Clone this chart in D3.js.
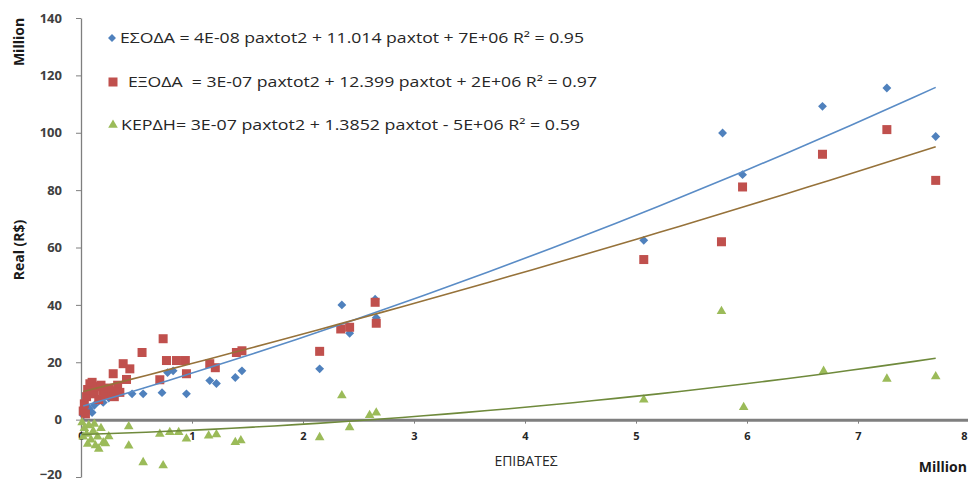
<!DOCTYPE html>
<html>
<head>
<meta charset="utf-8">
<script src="https://cdn.jsdelivr.net/npm/d3@7"></script>
<style>
  body { margin: 0; background: #fff; }
  text { font-family: "Open Sans", "Noto Sans", sans-serif; }
</style>
</head>
<body>
<div id="chart"></div>
<script>
// passengers (million) vs value (million R$)
const esoda = [
  [0.02, 1.5], [0.04, 3], [0.07, 4], [0.1, 2.5], [0.12, 5], [0.16, 6.5], [0.2, 6], [0.25, 7.5],
  [0.3, 9], [0.35, 9.5], [0.46, 9], [0.56, 9], [0.73, 9.4], [0.78, 16.4], [0.83, 17], [0.95, 9],
  [1.16, 13.6], [1.22, 12.6], [1.39, 14.7], [1.45, 17], [2.15, 17.7], [2.35, 40], [2.42, 30.1],
  [2.65, 42], [2.66, 35.5], [5.07, 62.5], [5.78, 99.9], [5.96, 85.4], [6.68, 109.2], [7.26, 115.6], [7.7, 98.7]
];
const eksoda = [
  [0.02, 3], [0.03, 5.5], [0.05, 8], [0.06, 10.5], [0.08, 12.5], [0.1, 13], [0.12, 9], [0.14, 11.5],
  [0.16, 7], [0.18, 12], [0.2, 10], [0.22, 8.5], [0.25, 11], [0.28, 10], [0.3, 8], [0.33, 12],
  [0.35, 9.5], [0.04, 2], [0.29, 16], [0.38, 19.5], [0.41, 14], [0.44, 17.7], [0.55, 23.4],
  [0.71, 13.9], [0.74, 28.2], [0.77, 20.6], [0.86, 20.6], [0.94, 20.6], [0.95, 16], [1.16, 19.5],
  [1.21, 18.1], [1.4, 23.4], [1.45, 24], [2.15, 23.8], [2.34, 31.6], [2.42, 32.2], [2.65, 40.9],
  [2.66, 33.6], [5.07, 55.8], [5.77, 62], [5.96, 81.1], [6.68, 92.5], [7.26, 101.1], [7.7, 83.4]
];
const kerdh = [
  [0.01, -1], [0.02, -6], [0.03, -3], [0.05, -5], [0.06, -8.5], [0.07, -2], [0.09, -7], [0.11, -4],
  [0.12, -1.5], [0.13, -9], [0.15, -6], [0.16, -10.2], [0.18, -3], [0.2, -8], [0.22, -8.3],
  [0.25, -5.9], [0.43, -2.4], [0.43, -9.1], [0.56, -14.9], [0.71, -5], [0.74, -16], [0.8, -4.4],
  [0.88, -4.4], [0.95, -6.7], [1.15, -5.6], [1.22, -5.2], [1.39, -7.9], [1.44, -7.3], [2.15, -6.2],
  [2.35, 8.4], [2.42, -2.7], [2.6, 1.5], [2.66, 2.4], [5.07, 6.9], [5.77, 37.8], [5.97, 4.3],
  [6.69, 16.9], [7.26, 14.2], [7.7, 15]
];

// polynomial (order 2) trendlines: [a, b, c] -> a*x^2 + b*x + c
const trendEsoda = [0.41, 11.3, 4.5];
const trendEksoda = [0.17, 9.8, 9.6];
const trendKerdh = [0.29, 1.22, -5.2];

const legendLabels = [
  "ΕΣΟΔΑ = 4E-08 paxtot2 + 11.014 paxtot + 7E+06 R² = 0.95",
  "ΕΞΟΔΑ  = 3E-07 paxtot2 + 12.399 paxtot + 2E+06 R² = 0.97",
  "ΚΕΡΔΗ= 3E-07 paxtot2 + 1.3852 paxtot - 5E+06 R² = 0.59"
];
const xTicks = [0, 1, 2, 3, 4, 5, 6, 7, 8];
const yTicks = [-20, 0, 20, 40, 60, 80, 100, 120, 140];

const width = 968;
const height = 483;

const svg = d3.select("#chart")
  .append("svg")
  .attr("width", width)
  .attr("height", height);

const x = d3.scaleLinear().domain([0, 8]).range([81, 969]);
const y = d3.scaleLinear().domain([-20, 140]).range([477, 18]);

// Y axis
const yAxis = svg.append("g")
  .attr("transform", `translate(${x(0)},0)`)
  .call(d3.axisLeft(y).tickValues(yTicks).tickSize(5).tickPadding(14).tickSizeOuter(0));
yAxis.select(".domain").attr("stroke", "#7f7f7f").attr("stroke-width", 1.3);
yAxis.selectAll(".tick line").attr("stroke", "#7f7f7f");
yAxis.selectAll("text")
  .attr("font-size", "13px")
  .attr("font-weight", "bold")
  .attr("fill", "#404040")
  .attr("dy", d => d === -20 ? "0.1em" : "0.32em");

// X axis at y = 0
const xAxis = svg.append("g")
  .attr("transform", `translate(0,${y(0)})`)
  .call(d3.axisBottom(x).tickValues(xTicks).tickSize(4).tickPadding(9).tickSizeOuter(0));
xAxis.select(".domain").attr("stroke", "#7f7f7f").attr("stroke-width", 3);
xAxis.selectAll(".tick line").attr("stroke", "#7f7f7f");
xAxis.selectAll("text")
  .attr("font-size", "11px")
  .attr("font-weight", "bold")
  .attr("fill", "#262626")
  .attr("text-anchor", d => d === 8 ? "end" : "middle")
  .attr("dx", d => d === 8 ? "-2" : "0");

// markers
const blue = "#4f81bd", red = "#c0504d", green = "#9bbb59";

svg.append("g").selectAll("path")
  .data(esoda)
  .enter()
  .append("path")
  .attr("d", d3.symbol(d3.symbolDiamond2, 50))
  .attr("transform", d => `translate(${x(d[0])},${y(d[1])})`)
  .attr("fill", blue);

svg.append("g").selectAll("rect")
  .data(eksoda)
  .enter()
  .append("rect")
  .attr("x", d => x(d[0]) - 4.5)
  .attr("y", d => y(d[1]) - 4.5)
  .attr("width", 9)
  .attr("height", 9)
  .attr("fill", red);

svg.append("g").selectAll("path")
  .data(kerdh)
  .enter()
  .append("path")
  .attr("d", d3.symbol(d3.symbolTriangle, 40))
  .attr("transform", d => `translate(${x(d[0])},${y(d[1])})`)
  .attr("fill", green);

// trendlines
function trendPoints(coef, x0, x1) {
  return d3.range(0, 41).map(i => {
    const xv = x0 + (x1 - x0) * i / 40;
    return [xv, coef[0] * xv * xv + coef[1] * xv + coef[2]];
  });
}
const line = d3.line().x(d => x(d[0])).y(d => y(d[1]));

const trends = [
  { coef: trendEsoda, data: esoda, color: "#5a8cc6" },
  { coef: trendEksoda, data: eksoda, color: "#96723a" },
  { coef: trendKerdh, data: kerdh, color: "#6f8a3c" }
];
trends.forEach(t => {
  const [x0, x1] = d3.extent(t.data, d => d[0]);
  svg.append("path")
    .attr("d", line(trendPoints(t.coef, x0, x1)))
    .attr("fill", "none")
    .attr("stroke", t.color)
    .attr("stroke-width", 1.6);
});

// legend
const legend = svg.append("g");
const legendY = [38, 82, 125];
const legendX = [120, 128, 121];
const legendW = [464, 469, 459];

legend.append("path")
  .attr("d", d3.symbol(d3.symbolDiamond2, 40))
  .attr("transform", `translate(112,${legendY[0]})`)
  .attr("fill", blue);
legend.append("rect")
  .attr("x", 108.5).attr("y", legendY[1] - 4.5)
  .attr("width", 9).attr("height", 9)
  .attr("fill", red);
legend.append("path")
  .attr("d", d3.symbol(d3.symbolTriangle, 40))
  .attr("transform", `translate(113,${legendY[2]})`)
  .attr("fill", green);

legendLabels.forEach((label, i) => {
  legend.append("text")
    .attr("x", legendX[i])
    .attr("y", legendY[i] + 5)
    .attr("font-size", "14px")
    .attr("fill", "#262626")
    .attr("textLength", legendW[i])
    .attr("lengthAdjust", "spacingAndGlyphs")
    .attr("xml:space", "preserve")
    .style("white-space", "pre")
    .text(label);
});

// axis titles
svg.append("text")
  .attr("x", 526)
  .attr("y", 466)
  .attr("text-anchor", "middle")
  .attr("font-size", "14px")
  .attr("fill", "#262626")
  .text("ΕΠΙΒΑΤΕΣ");

svg.append("text")
  .attr("x", 967)
  .attr("y", 472)
  .attr("text-anchor", "end")
  .attr("font-size", "14px")
  .attr("font-weight", "bold")
  .attr("fill", "#1a1a1a")
  .text("Million");

svg.append("text")
  .attr("transform", "translate(24,250) rotate(-90)")
  .attr("text-anchor", "middle")
  .attr("font-size", "14px")
  .attr("font-weight", "bold")
  .attr("fill", "#1a1a1a")
  .text("Real (R$)");

svg.append("text")
  .attr("transform", "translate(24,42) rotate(-90)")
  .attr("text-anchor", "middle")
  .attr("font-size", "14px")
  .attr("font-weight", "bold")
  .attr("fill", "#1a1a1a")
  .text("Million");
</script>
</body>
</html>
